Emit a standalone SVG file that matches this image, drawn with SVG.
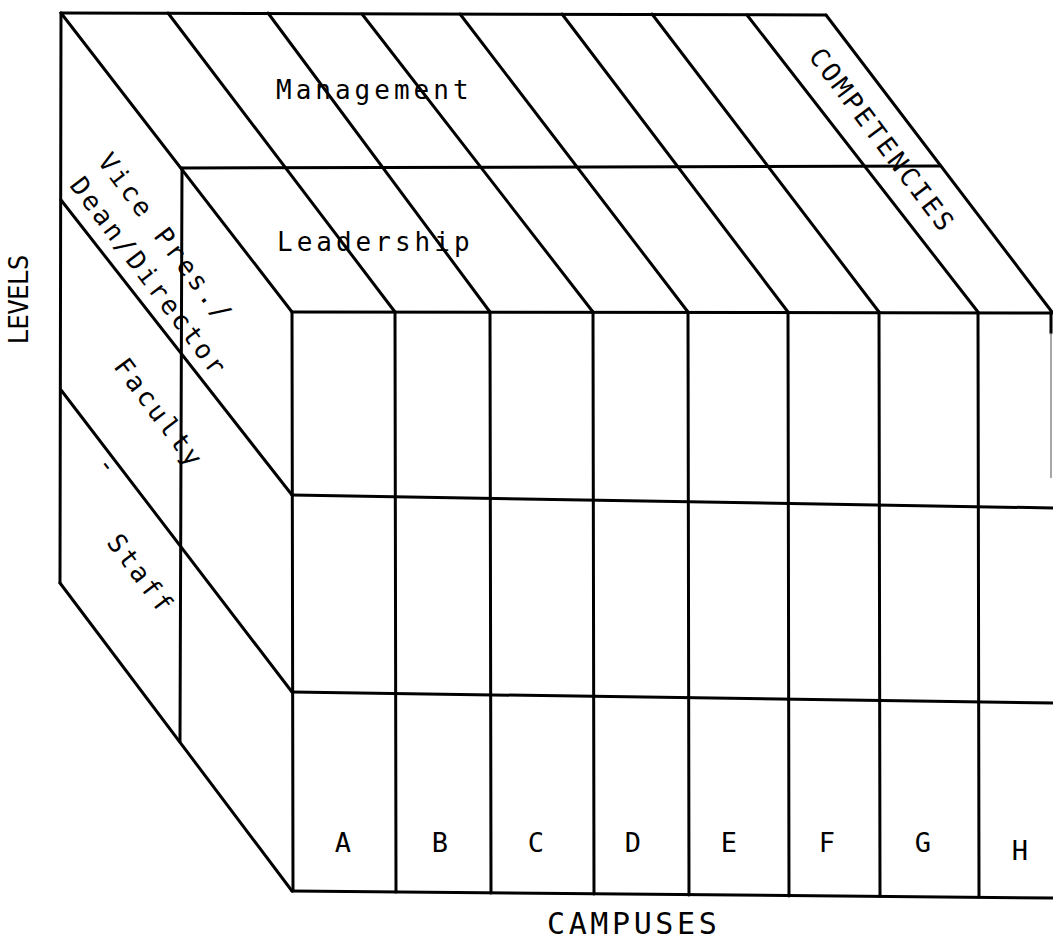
<svg xmlns="http://www.w3.org/2000/svg" width="1053" height="940" viewBox="0 0 1053 940">
  <style>
    .edge { stroke: #000; stroke-width: 3; fill: none; stroke-linecap: round; }
    .faint { stroke: #8a8a8a; stroke-width: 1.5; fill: none; }
    .lbl { font-family: "DejaVu Sans Mono", "Liberation Mono", monospace; font-size: 26px; fill: #000; }
    .face { letter-spacing: 4px; }
    .slant { letter-spacing: 3px; }
    .campus { text-anchor: middle; font-size: 27px; }
    .axis { font-size: 30px; letter-spacing: 3.6px; }
  </style>
  <rect width="1053" height="940" fill="#fff"/>

  <!-- cube outline and grid -->
  <g id="cube">
    <!-- top face: back edge, mid edge, front edge -->
    <line class="edge" x1="61" y1="13" x2="826" y2="15"/>
    <line class="edge" x1="182" y1="168" x2="940" y2="166"/>
    <line class="edge" x1="292" y1="312" x2="1053" y2="313"/>
    <!-- top face: receding diagonals -->
    <line class="edge" x1="61" y1="13" x2="292" y2="312"/>
    <line class="edge" x1="168" y1="13" x2="395" y2="312"/>
    <line class="edge" x1="268" y1="13" x2="490" y2="312"/>
    <line class="edge" x1="362" y1="14" x2="593" y2="312"/>
    <line class="edge" x1="460" y1="14" x2="688" y2="312"/>
    <line class="edge" x1="562" y1="14" x2="788" y2="312"/>
    <line class="edge" x1="652" y1="14" x2="879" y2="312"/>
    <line class="edge" x1="747" y1="15" x2="978" y2="312"/>
    <line class="edge" x1="826" y1="15" x2="1052" y2="312"/>

    <!-- left face -->
    <line class="edge" x1="61" y1="13" x2="60" y2="583"/>
    <line class="edge" x1="182" y1="168" x2="180" y2="742"/>
    <line class="edge" x1="61" y1="200" x2="292" y2="495"/>
    <line class="edge" x1="61" y1="390" x2="292" y2="692"/>
    <line class="edge" x1="60" y1="583" x2="292" y2="891"/>

    <!-- front face: horizontals -->
    <line class="edge" x1="292" y1="495" x2="1053" y2="508"/>
    <line class="edge" x1="292" y1="692" x2="1053" y2="703"/>
    <line class="edge" x1="292" y1="891" x2="1053" y2="898"/>
    <!-- front face: verticals -->
    <line class="edge" x1="292" y1="312" x2="293" y2="891"/>
    <line class="edge" x1="395" y1="312" x2="396" y2="892"/>
    <line class="edge" x1="490" y1="312" x2="491" y2="893"/>
    <line class="edge" x1="593" y1="312" x2="594" y2="894"/>
    <line class="edge" x1="688" y1="312" x2="689" y2="895"/>
    <line class="edge" x1="788" y1="312" x2="789" y2="896"/>
    <line class="edge" x1="879" y1="312" x2="880" y2="896"/>
    <line class="edge" x1="978" y1="313" x2="979" y2="897"/>
    <line class="edge" x1="1051" y1="312" x2="1051" y2="333"/>
    <line class="faint" x1="1051" y1="333" x2="1051" y2="478"/>
  </g>

  <!-- top face labels -->
  <g id="competencies">
    <text class="lbl face" x="276" y="99">Management</text>
    <text class="lbl face" x="277" y="251">Leadership</text>
    <text class="lbl slant" x="807.7" y="56.5" transform="rotate(53 807.7 56.5)">COMPETENCIES</text>
  </g>

  <!-- left face labels -->
  <g id="levels">
    <text class="lbl slant" x="96.7" y="161.5" transform="rotate(53 96.7 161.5)">Vice Pres./</text>
    <text class="lbl slant" x="68.7" y="185.5" transform="rotate(53 68.7 185.5)">Dean/Director</text>
    <text class="lbl slant" x="112.7" y="366.5" transform="rotate(53 112.7 366.5)">Faculty</text>
    <text class="lbl slant" x="96" y="464" transform="rotate(53 96 464)">-</text>
    <text class="lbl slant" x="105.7" y="542.5" transform="rotate(53 105.7 542.5)">Staff</text>
    <text class="lbl" x="28" y="300" font-size="25" text-anchor="middle" letter-spacing="-0.8" transform="rotate(-90 28 300)">LEVELS</text>
  </g>

  <!-- front face labels -->
  <g id="campuses">
    <text class="lbl campus" x="343" y="852">A</text>
    <text class="lbl campus" x="440" y="852">B</text>
    <text class="lbl campus" x="536" y="852">C</text>
    <text class="lbl campus" x="633" y="852">D</text>
    <text class="lbl campus" x="729" y="852">E</text>
    <text class="lbl campus" x="827" y="852">F</text>
    <text class="lbl campus" x="923" y="852">G</text>
    <text class="lbl campus" x="1020" y="860">H</text>
    <text class="lbl axis" x="547" y="934">CAMPUSES</text>
  </g>
</svg>
